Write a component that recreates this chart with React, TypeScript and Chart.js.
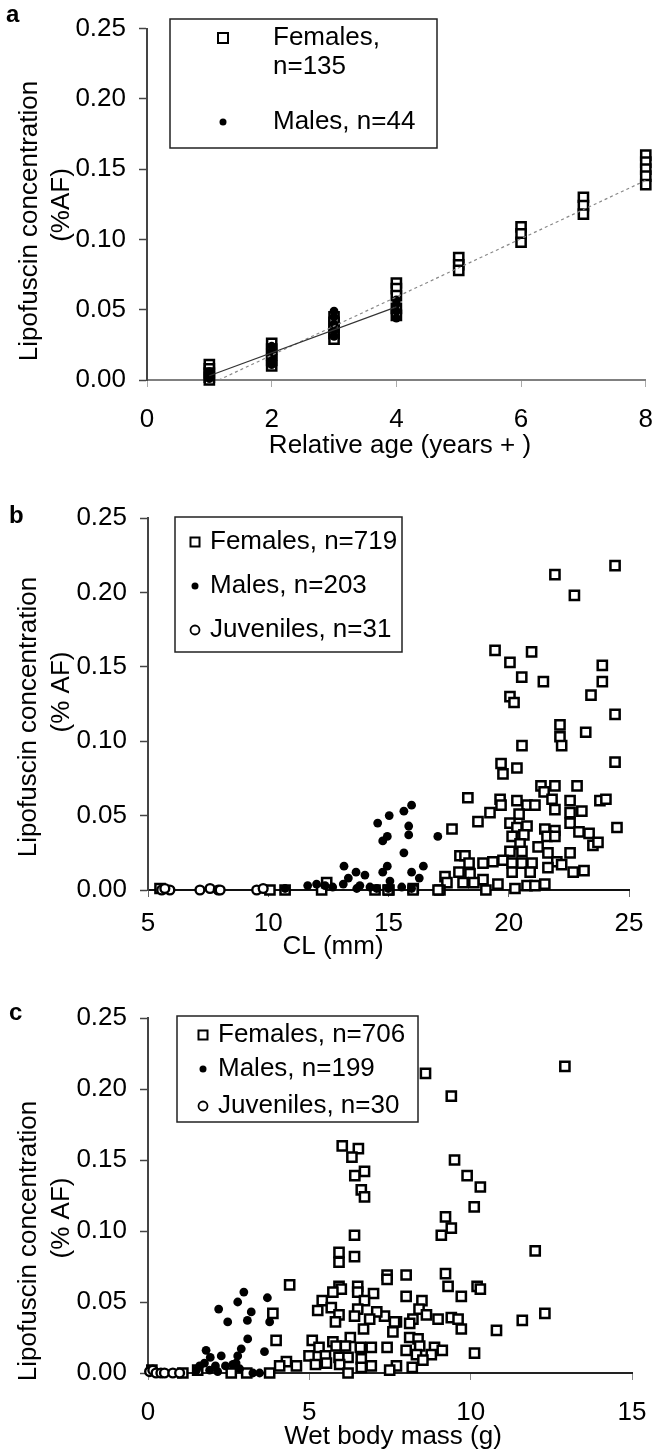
import React, { useEffect, useRef } from 'react';
import { Chart, registerables } from 'chart.js';

Chart.register(...registerables);

const FONT = '"Liberation Sans", Arial, Helvetica, sans-serif';

// ---------------- tick values ----------------
const lfTicks = [0, 0.05, 0.1, 0.15, 0.2, 0.25];
const ageTicks = [0, 2, 4, 6, 8];
const clTicks = [5, 10, 15, 20, 25];
const massTicks = [0, 5, 10, 15];

// ---------------- panel a : relative age ----------------
const aFemales: [number, number][] = [
  [1, 0.011], [1, 0.008], [1, 0.005], [1, 0.002], [1, 0.0],
  [2, 0.026], [2, 0.022], [2, 0.018], [2, 0.014], [2, 0.01],
  [3, 0.045], [3, 0.041], [3, 0.037], [3, 0.033], [3, 0.029],
  [4, 0.069], [4, 0.065], [4, 0.06], [4, 0.051], [4, 0.046],
  [5, 0.087], [5, 0.082], [5, 0.078],
  [6, 0.109], [6, 0.104], [6, 0.098],
  [7, 0.13], [7, 0.124], [7, 0.118],
  [8, 0.16], [8, 0.155], [8, 0.15], [8, 0.145], [8, 0.139],
];
const aMales: [number, number][] = [
  [1, 0.006], [1, 0.003], [1, 0.001],
  [2, 0.024], [2, 0.019], [2, 0.015], [2, 0.011],
  [3, 0.049], [3, 0.045], [3, 0.04], [3, 0.035], [3, 0.031],
  [4, 0.057], [4, 0.054], [4, 0.049], [4, 0.044],
];
const aFemaleFit: [number, number][] = [[1.15, 0.0], [8, 0.142]];
const aMaleFit: [number, number][] = [[1, 0.003], [4, 0.052]];

// ---------------- panel b : carapace length ----------------
const bFemales: [number, number][] = [
  [24.42, 0.218], [21.92, 0.212], [22.73, 0.198], [19.43, 0.161], [20.95, 0.16],
  [20.05, 0.153], [23.89, 0.151], [20.54, 0.143], [21.44, 0.14], [23.89, 0.14],
  [23.42, 0.131], [20.05, 0.13], [20.22, 0.126],
  [24.42, 0.118], [22.13, 0.111], [22.13, 0.103], [23.2, 0.106], [22.2, 0.097],
  [20.55, 0.097], [24.42, 0.086], [19.68, 0.085], [19.76, 0.078], [20.34, 0.082],
  [21.34, 0.07], [21.92, 0.07], [22.84, 0.07], [21.47, 0.066], [18.3, 0.062],
  [19.64, 0.061], [23.79, 0.06], [24.04, 0.061], [20.34, 0.06], [20.76, 0.057],
  [21.09, 0.057], [21.8, 0.061], [22.55, 0.06], [19.68, 0.057], [19.22, 0.052],
  [20.43, 0.051], [21.92, 0.054], [22.55, 0.052], [23.04, 0.053], [18.72, 0.046],
  [17.64, 0.041], [20.05, 0.045], [22.55, 0.045], [20.76, 0.043], [20.34, 0.042],
  [21.5, 0.041], [21.92, 0.04], [22.92, 0.039], [23.34, 0.038], [20.14, 0.036],
  [20.63, 0.037], [21.59, 0.036], [21.92, 0.036], [23.5, 0.03], [23.71, 0.032],
  [20.47, 0.031], [21.22, 0.029], [20.05, 0.026], [20.55, 0.026], [21.63, 0.025],
  [22.55, 0.025], [17.97, 0.023], [18.18, 0.023], [19.34, 0.019], [18.93, 0.018],
  [19.76, 0.02], [20.55, 0.018], [20.97, 0.018], [20.14, 0.018], [18.35, 0.018],
  [22.0, 0.019], [21.63, 0.015], [22.2, 0.017], [17.93, 0.012], [18.39, 0.011],
  [20.14, 0.012], [20.89, 0.012], [22.68, 0.012], [23.13, 0.013], [17.35, 0.009],
  [18.93, 0.007], [17.43, 0.005], [18.1, 0.005], [19.55, 0.004], [18.55, 0.005],
  [20.76, 0.003], [21.09, 0.003], [21.5, 0.004], [20.26, 0.001], [17.14, 0.0],
  [16.03, 0.001], [15.02, 0.0], [19.05, 0.0], [24.5, 0.042],
  [5.5, 0.001], [10.07, 0.0], [10.7, 0.0], [12.22, 0.0], [12.43, 0.005],
  [14.44, 0.0], [14.98, 0.0], [16.02, 0.0], [17.06, 0.0],
];
const bMales: [number, number][] = [
  [15.96, 0.057], [15.64, 0.053], [15.03, 0.05], [14.55, 0.045], [15.84, 0.043],
  [14.95, 0.036], [14.76, 0.033], [15.84, 0.037], [17.05, 0.036], [15.64, 0.025],
  [13.15, 0.016], [14.95, 0.016], [16.45, 0.016], [13.65, 0.012], [14.02, 0.01],
  [14.76, 0.012], [15.96, 0.012], [13.33, 0.008], [16.28, 0.008], [13.12, 0.004],
  [11.64, 0.003], [12.01, 0.004], [15.06, 0.006], [13.81, 0.003], [14.23, 0.002],
  [12.68, 0.002], [15.55, 0.002], [13.68, 0.001], [14.51, 0.001], [12.36, 0.003],
  [14.99, 0.001], [15.96, 0.001], [10.7, 0.001],
];
const bJuveniles: [number, number][] = [
  [5.57, 0.0], [5.91, 0.0], [5.7, 0.001], [7.16, 0.0], [7.58, 0.001],
  [7.92, 0.0], [8.0, 0.0], [9.52, 0.0], [9.79, 0.001],
];

// ---------------- panel c : wet body mass ----------------
const cFemales: [number, number][] = [
  [12.92, 0.216], [8.6, 0.211], [9.4, 0.195], [6.02, 0.16], [6.52, 0.158],
  [6.32, 0.152], [9.5, 0.15], [6.71, 0.142], [6.41, 0.139], [9.89, 0.139],
  [6.61, 0.129], [10.3, 0.131], [6.71, 0.124], [10.11, 0.117], [9.22, 0.11],
  [9.4, 0.102], [9.09, 0.097], [6.4, 0.097], [5.92, 0.085], [5.92, 0.078],
  [6.4, 0.082], [12.0, 0.086],
  [7.41, 0.069], [7.41, 0.066], [8.0, 0.069], [9.22, 0.07], [9.3, 0.061],
  [10.2, 0.061], [10.3, 0.059], [8.0, 0.054], [9.71, 0.054], [8.49, 0.051],
  [8.4, 0.045], [12.3, 0.042], [7.33, 0.04], [8.63, 0.041], [8.21, 0.038],
  [8.99, 0.038], [9.4, 0.039], [9.61, 0.038], [11.6, 0.037], [7.7, 0.036],
  [8.11, 0.035], [9.71, 0.031], [10.8, 0.03], [7.59, 0.029], [8.11, 0.025],
  [8.37, 0.024], [7.41, 0.018], [8.0, 0.016], [8.42, 0.019], [8.88, 0.018],
  [9.12, 0.016], [8.78, 0.013], [10.12, 0.014], [8.32, 0.013], [8.52, 0.009],
  [7.7, 0.005], [8.19, 0.004], [7.49, 0.002],
  [4.39, 0.062], [5.92, 0.061], [5.99, 0.059], [5.73, 0.057], [6.5, 0.061],
  [6.5, 0.057], [6.99, 0.056], [5.4, 0.051], [6.71, 0.051], [5.26, 0.044],
  [5.68, 0.046], [6.5, 0.045], [7.09, 0.043], [3.87, 0.042], [5.92, 0.041],
  [6.4, 0.04], [6.87, 0.038], [5.81, 0.036], [7.64, 0.036], [6.68, 0.031],
  [6.27, 0.025], [3.97, 0.023], [5.09, 0.023], [5.73, 0.022], [5.3, 0.018],
  [5.83, 0.019], [6.12, 0.019], [6.58, 0.018], [6.92, 0.018], [4.99, 0.012],
  [5.5, 0.012], [5.92, 0.011], [6.2, 0.011], [6.61, 0.01], [4.29, 0.008],
  [4.6, 0.005], [4.08, 0.005], [5.19, 0.006], [5.53, 0.007], [5.94, 0.006],
  [6.61, 0.004], [6.92, 0.005], [6.2, 0.0], [3.77, 0.0], [3.06, 0.0],
  [2.58, 0.0], [1.08, 0.0], [1.54, 0.002], [0.12, 0.002],
];
const cMales: [number, number][] = [
  [2.97, 0.057], [2.78, 0.05], [3.7, 0.053], [2.19, 0.045], [3.2, 0.043],
  [2.47, 0.036], [3.08, 0.037], [3.77, 0.036], [3.09, 0.024], [3.61, 0.015],
  [2.89, 0.017], [1.8, 0.016], [2.27, 0.012], [1.93, 0.011], [2.78, 0.012],
  [2.73, 0.007], [1.75, 0.007], [1.6, 0.005], [2.09, 0.005], [2.4, 0.005],
  [2.63, 0.006], [1.91, 0.002], [2.16, 0.001], [2.84, 0.003], [1.5, 0.002],
  [3.25, 0.0], [3.46, 0.0],
];
const cJuveniles: [number, number][] = [
  [0.05, 0.001], [0.15, 0.002], [0.25, 0.0], [0.4, 0.0], [0.51, 0.0],
  [0.77, 0.0], [0.98, 0.0],
];

// ---------------- helpers ----------------
const pts = (arr: [number, number][]) => arr.map(([x, y]) => ({ x, y }));

const squareSet = (label: string, data: [number, number][]) => ({
  label,
  data: pts(data),
  pointStyle: 'rect',
  pointRadius: 6.5,
  pointHoverRadius: 6.5,
  backgroundColor: '#ffffff',
  borderColor: '#000000',
  borderWidth: 2.5,
  clip: false,
});
const dotSet = (label: string, data: [number, number][]) => ({
  label,
  data: pts(data),
  pointStyle: 'circle',
  pointRadius: 4.4,
  pointHoverRadius: 4.4,
  backgroundColor: '#000000',
  borderColor: '#000000',
  borderWidth: 0,
  clip: false,
});
const circleSet = (label: string, data: [number, number][]) => ({
  label,
  data: pts(data),
  pointStyle: 'circle',
  pointRadius: 4.4,
  pointHoverRadius: 4.4,
  backgroundColor: '#ffffff',
  borderColor: '#000000',
  borderWidth: 2.4,
  clip: false,
});
const lineSet = (label: string, data: [number, number][], color: string, dash: number[]) => ({
  type: 'line',
  label,
  data: pts(data),
  showLine: true,
  pointRadius: 0,
  borderColor: color,
  borderWidth: 1.2,
  borderDash: dash,
  fill: false,
  clip: false,
});

type LegendItem = { marker: 'square' | 'dot' | 'circle'; mx: number; my: number; size: number; lines: [string, number, number][] };
type Decor = {
  letter: [string, number, number];
  xTitle: [string, number, number];
  yTitle: [string, number, number][];
  box: { left: number; top: number; right: number; bottom: number };
  items: LegendItem[];
};

function makeDecor(d: Decor) {
  return {
    id: 'decor',
    afterDraw(chart: any) {
      const ctx: CanvasRenderingContext2D = chart.ctx;
      ctx.save();
      ctx.fillStyle = '#000';
      ctx.font = `bold 24px ${FONT}`;
      ctx.textAlign = 'left';
      ctx.textBaseline = 'alphabetic';
      ctx.fillText(d.letter[0], d.letter[1], d.letter[2]);

      ctx.font = `26px ${FONT}`;
      ctx.textAlign = 'center';
      ctx.textBaseline = 'middle';
      ctx.fillText(d.xTitle[0], d.xTitle[1], d.xTitle[2]);
      d.yTitle.forEach(([t, x, y]) => {
        ctx.save();
        ctx.translate(x, y);
        ctx.rotate(-Math.PI / 2);
        ctx.fillText(t, 0, 0);
        ctx.restore();
      });

      // legend box
      ctx.lineWidth = 1.5;
      ctx.strokeStyle = '#222';
      ctx.strokeRect(d.box.left, d.box.top, d.box.right - d.box.left, d.box.bottom - d.box.top);

      d.items.forEach((it) => {
        ctx.beginPath();
        if (it.marker === 'square') {
          ctx.fillStyle = '#fff';
          ctx.fillRect(it.mx - it.size / 2, it.my - it.size / 2, it.size, it.size);
          ctx.lineWidth = 2;
          ctx.strokeStyle = '#000';
          ctx.strokeRect(it.mx - it.size / 2, it.my - it.size / 2, it.size, it.size);
        } else if (it.marker === 'dot') {
          ctx.fillStyle = '#000';
          ctx.arc(it.mx, it.my, it.size / 2, 0, Math.PI * 2);
          ctx.fill();
        } else {
          ctx.fillStyle = '#fff';
          ctx.arc(it.mx, it.my, it.size / 2, 0, Math.PI * 2);
          ctx.fill();
          ctx.lineWidth = 1.8;
          ctx.strokeStyle = '#000';
          ctx.stroke();
        }
        ctx.fillStyle = '#000';
        ctx.font = `26px ${FONT}`;
        ctx.textAlign = 'left';
        ctx.textBaseline = 'middle';
        it.lines.forEach(([t, x, y]) => ctx.fillText(t, x, y));
      });
      ctx.restore();
    },
  };
}

type Spec = {
  height: number;
  area: { left: number; top: number; right: number; bottom: number };
  xMin: number;
  xMax: number;
  xTicks: number[];
  xTickPad: number;
  xAxisColor: string;
  xTickColor: string;
  datasets: any[];
  decor: Decor;
};

function buildConfig(spec: Spec): any {
  const { area, height } = spec;
  return {
    type: 'scatter',
    data: { datasets: spec.datasets },
    options: {
      responsive: false,
      animation: false,
      devicePixelRatio: 1,
      events: [],
      layout: { padding: { left: 0, top: area.top, right: 670 - area.right, bottom: 0 } },
      plugins: { legend: { display: false }, tooltip: { enabled: false } },
      scales: {
        x: {
          type: 'linear',
          min: spec.xMin,
          max: spec.xMax,
          afterBuildTicks: (s: any) => {
            s.ticks = spec.xTicks.map((v) => ({ value: v }));
          },
          afterFit: (s: any) => {
            s.height = height - area.bottom;
          },
          grid: { drawOnChartArea: false, drawTicks: true, tickLength: 7, tickColor: spec.xTickColor, tickWidth: 1 },
          border: { display: true, color: spec.xAxisColor, width: 2 },
          ticks: {
            padding: spec.xTickPad,
            color: '#000',
            maxRotation: 0,
            autoSkip: false,
            font: { size: 26, family: FONT },
            callback: (v: any) => String(v),
          },
        },
        y: {
          type: 'linear',
          min: 0,
          max: 0.25,
          afterBuildTicks: (s: any) => {
            s.ticks = lfTicks.map((v) => ({ value: v }));
          },
          afterFit: (s: any) => {
            s.width = area.left;
          },
          grid: { drawOnChartArea: false, drawTicks: true, tickLength: 8, tickColor: '#444', tickWidth: 1.5 },
          border: { display: true, color: '#444', width: 2 },
          ticks: {
            padding: 13,
            color: '#000',
            autoSkip: false,
            font: { size: 26, family: FONT },
            callback: (v: any) => Number(v).toFixed(2),
          },
        },
      },
    },
    plugins: [makeDecor(spec.decor)],
  };
}

const specA: Spec = {
  height: 470,
  area: { left: 147, top: 21, right: 650, bottom: 380 },
  xMin: 0,
  xMax: 8,
  xTicks: ageTicks,
  xTickPad: 17,
  xAxisColor: '#808080',
  xTickColor: '#aaaaaa',
  datasets: [
    lineSet('Males fit', aMaleFit, '#333333', []),
    lineSet('Females fit', aFemaleFit, '#888888', [3, 3]),
    dotSet('Males, n=44', aMales),
    squareSet('Females, n=135', aFemales),
  ],
  decor: {
    letter: ['a', 6, 22],
    xTitle: ['Relative age (years + )', 400, 446],
    yTitle: [['Lipofuscin concentration', 30, 221], ['(%AF)', 62, 205]],
    box: { left: 170, top: 19, right: 437, bottom: 148 },
    items: [
      { marker: 'square', mx: 223, my: 38, size: 10, lines: [['Females,', 273, 38], ['n=135', 273, 67]] },
      { marker: 'dot', mx: 223, my: 122, size: 7, lines: [['Males, n=44', 273, 122]] },
    ],
  },
};

const specB: Spec = {
  height: 490,
  area: { left: 148, top: 48, right: 629, bottom: 420 },
  xMin: 5,
  xMax: 25,
  xTicks: clTicks,
  xTickPad: 11,
  xAxisColor: '#111111',
  xTickColor: '#666666',
  datasets: [
    dotSet('Males, n=203', bMales),
    circleSet('Juveniles, n=31', bJuveniles),
    squareSet('Females, n=719', bFemales),
  ],
  decor: {
    letter: ['b', 9, 53],
    xTitle: ['CL (mm)', 333, 477],
    yTitle: [['Lipofuscin concentration', 29, 247], ['(% AF)', 62, 222]],
    box: { left: 175, top: 47, right: 402, bottom: 182 },
    items: [
      { marker: 'square', mx: 195, my: 72, size: 9, lines: [['Females, n=719', 210, 72]] },
      { marker: 'dot', mx: 195, my: 116, size: 7, lines: [['Males, n=203', 210, 116]] },
      { marker: 'circle', mx: 195, my: 160, size: 9, lines: [['Juveniles, n=31', 210, 160]] },
    ],
  },
};

const specC: Spec = {
  height: 496,
  area: { left: 148, top: 58, right: 632, bottom: 413 },
  xMin: 0,
  xMax: 15,
  xTicks: massTicks,
  xTickPad: 17,
  xAxisColor: '#222222',
  xTickColor: '#888888',
  datasets: [
    dotSet('Males, n=199', cMales),
    circleSet('Juveniles, n=30', cJuveniles),
    squareSet('Females, n=706', cFemales),
  ],
  decor: {
    letter: ['c', 9, 60],
    xTitle: ['Wet body mass (g)', 393, 477],
    yTitle: [['Lipofuscin concentration', 29, 281], ['(% AF)', 62, 258]],
    box: { left: 177, top: 56, right: 418, bottom: 162 },
    items: [
      { marker: 'square', mx: 203, my: 75, size: 9, lines: [['Females, n=706', 218, 75]] },
      { marker: 'dot', mx: 203, my: 109, size: 7, lines: [['Males, n=199', 218, 109]] },
      { marker: 'circle', mx: 203, my: 146, size: 9, lines: [['Juveniles, n=30', 218, 146]] },
    ],
  },
};

function Panel({ spec }: { spec: Spec }) {
  const ref = useRef<HTMLCanvasElement>(null);
  useEffect(() => {
    const chart = new Chart(ref.current as HTMLCanvasElement, buildConfig(spec));
    return () => chart.destroy();
  }, [spec]);
  return (
    <canvas
      ref={ref}
      width={670}
      height={spec.height}
      style={{ display: 'block', width: 670, height: spec.height }}
    />
  );
}

export default function App() {
  return (
    <div style={{ position: 'absolute', left: 0, top: 0, width: 670, height: 1456, background: '#fff', overflow: 'hidden' }}>
      <Panel spec={specA} />
      <Panel spec={specB} />
      <Panel spec={specC} />
    </div>
  );
}
